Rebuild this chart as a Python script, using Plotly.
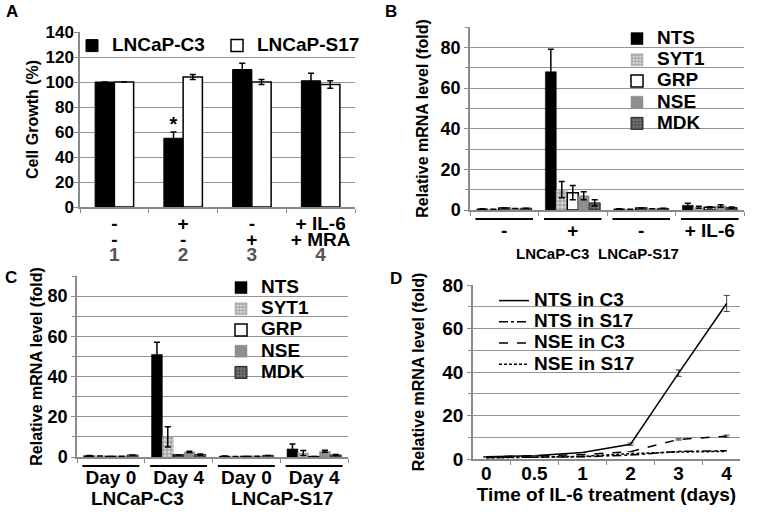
import plotly.graph_objects as go

FONT = "Liberation Sans, Arial, sans-serif"
GRID = "#959595"
AXL = "#8a8a8a"

# ---------------- Panel A data ----------------
a_categories = ["1", "2", "3", "4"]
a_row1 = ["-", "+", "-", "+ IL-6"]
a_row2 = ["-", "-", "+", "+ MRA"]
a_c3 = [100, 55, 110, 101]
a_c3_err = [0, 5, 5, 6]
a_s17 = [100, 104, 100, 98]
a_s17_err = [0, 2, 2, 3]
a_marks = ["", "*", "", ""]
a_yticks = [0, 20, 40, 60, 80, 100, 120, 140]

# ---------------- Panel B data ----------------
b_categories = ["C3 ctrl", "C3 IL-6", "S17 ctrl", "S17 IL-6"]
b_ticktext = ["-", "+", "-", "+ IL-6"]
b_cells = ["LNCaP-C3", "LNCaP-S17"]
b_nts = [0.6, 68, 0.6, 2.3]
b_nts_err = [0, 11, 0, 1.0]
b_syt1 = [0.4, 10, 0.4, 1.3]
b_syt1_err = [0, 4, 0, 0.5]
b_grp = [1.0, 8.5, 1.0, 1.3]
b_grp_err = [0, 3.5, 0, 0.3]
b_nse = [0.7, 7, 0.6, 2.0]
b_nse_err = [0, 2, 0, 0.6]
b_mdk = [0.9, 3.5, 0.8, 1.2]
b_mdk_err = [0, 1.5, 0, 0.3]

# ---------------- Panel C data ----------------
c_categories = ["C3 d0", "C3 d4", "S17 d0", "S17 d4"]
c_ticktext = ["Day 0", "Day 4", "Day 0", "Day 4"]
c_cells = ["LNCaP-C3", "LNCaP-S17"]
c_nts = [0.7, 51, 0.5, 4.0]
c_nts_err = [0, 6, 0, 2.5]
c_syt1 = [0.5, 10, 0.3, 2.0]
c_syt1_err = [0, 5, 0, 1.2]
c_grp = [0.3, 1.0, 0.3, 0.2]
c_grp_err = [0, 0, 0, 0]
c_nse = [0.4, 2.5, 0.4, 2.8]
c_nse_err = [0, 0.3, 0, 0.5]
c_mdk = [1.0, 1.2, 0.8, 1.0]
c_mdk_err = [0, 0.3, 0, 0.2]

genes = ["NTS", "SYT1", "GRP", "NSE", "MDK"]
mrna_ticks = [0, 20, 40, 60, 80]

# ---------------- Panel D data ----------------
d_days = ["0", "0.5", "1", "2", "3", "4"]
d_nts_c3 = [1.0, 1.5, 3.0, 6.8, 39.5, 71.5]
d_nts_c3_err = [0, 0, 0, 0.5, 1.5, 3.7]
d_nts_s17 = [0.7, 0.8, 1.0, 1.8, 3.5, 3.8]
d_nse_c3 = [1.0, 1.5, 2.0, 3.4, 9.0, 10.5]
d_nse_c3_err = [0, 0, 0, 0, 0.3, 0.5]
d_nse_s17 = [0.5, 0.8, 1.2, 2.5, 3.2, 3.5]
d_names = ["NTS in C3", "NTS in S17", "NSE in C3", "NSE in S17"]
d_yticks = [0, 20, 40, 60, 80]

W, H = 762, 519


def big(t, size=19, color=None):
    st = "font-size:%dpx" % size
    if color:
        st += ";color:%s" % color
    return "<span style='%s'>%s</span>" % (st, t)


fig = go.Figure()

# ---------- A ----------
fig.add_trace(go.Bar(x=a_categories, y=a_c3, name=big("LNCaP-C3"),
                     marker=dict(color="black", line=dict(color="black", width=1)),
                     width=0.28, offset=-0.28,
                     error_y=dict(type="data", array=a_c3_err, color="black", thickness=1.5, width=3),
                     text=a_marks, textposition="outside", cliponaxis=False,
                     textfont=dict(size=20, color="black", family=FONT, weight=700),
                     xaxis="x", yaxis="y", legend="legend"))
fig.add_trace(go.Bar(x=a_categories, y=a_s17, name=big("LNCaP-S17"),
                     marker=dict(color="white", line=dict(color="black", width=1.5)),
                     width=0.28, offset=0,
                     error_y=dict(type="data", array=a_s17_err, color="black", thickness=1.5, width=3),
                     xaxis="x", yaxis="y", legend="legend"))

# ---------- B & C bar styles ----------
styles = [
    dict(color="black", line=dict(color="black", width=0.5)),
    dict(color="#d0d0d0", line=dict(color="#a0a0a0", width=0.5),
         pattern=dict(shape="+", fgcolor="#858585", bgcolor="#d8d8d8", size=4, solidity=0.35)),
    dict(color="white", line=dict(color="black", width=1.5)),
    dict(color="#8e8e8e", line=dict(color="#8e8e8e", width=0.5)),
    dict(color="#5a5a5a", line=dict(color="#222", width=1),
         pattern=dict(shape="+", fgcolor="#2a2a2a", bgcolor="#7a7a7a", size=4, solidity=0.3)),
]
offsets = [-0.4, -0.24, -0.08, 0.08, 0.24]

b_vals = [b_nts, b_syt1, b_grp, b_nse, b_mdk]
b_errs = [b_nts_err, b_syt1_err, b_grp_err, b_nse_err, b_mdk_err]
for g, v, e, s, o in zip(genes, b_vals, b_errs, styles, offsets):
    fig.add_trace(go.Bar(x=b_categories, y=v, name=big(g), marker=s, width=0.16, offset=o,
                         error_y=dict(type="data", array=e, color="black", thickness=1.5, width=3),
                         xaxis="x2", yaxis="y2", legend="legend2"))

c_vals = [c_nts, c_syt1, c_grp, c_nse, c_mdk]
c_errs = [c_nts_err, c_syt1_err, c_grp_err, c_nse_err, c_mdk_err]
for g, v, e, s, o in zip(genes, c_vals, c_errs, styles, offsets):
    fig.add_trace(go.Bar(x=c_categories, y=v, name=big(g), marker=s, width=0.16, offset=o,
                         error_y=dict(type="data", array=e, color="black", thickness=1.5, width=3),
                         xaxis="x3", yaxis="y3", legend="legend3"))

# ---------- D ----------
d_series = [d_nts_c3, d_nts_s17, d_nse_c3, d_nse_s17]
d_errs = [d_nts_c3_err, None, d_nse_c3_err, None]
d_dash = ["solid", "dashdot", "dash", "3px,2px"]
for n, v, e, dsh in zip(d_names, d_series, d_errs, d_dash):
    fig.add_trace(go.Scatter(x=d_days, y=v, name=big(n), mode="lines",
                             line=dict(color="black", width=1.5, dash=dsh),
                             error_y=(dict(type="data", array=e, color="#444", thickness=1, width=3) if e else None),
                             xaxis="x4", yaxis="y4", legend="legend4"))


def px_x(p):
    return p / float(W)


def px_y(p):
    return 1 - p / float(H)


tickf = lambda s: dict(family=FONT, size=s, color="black", weight=700)
titf = dict(family=FONT, size=16, color="black", weight=700)

common_y = dict(showline=True, linecolor=AXL, linewidth=1.5, ticks="outside", ticklen=4,
                tickcolor=AXL, showgrid=True, gridcolor=GRID, gridwidth=1, zeroline=False)
common_x = dict(showline=True, linecolor=AXL, linewidth=1.5, ticks="outside", ticklen=4,
                tickcolor=AXL, tickson="boundaries", showgrid=False, zeroline=False, type="category",
                tickangle=0)

a_ticktext = [big(r1, 19) + "<br>" + big(r2, 19) + "<br>" + big(n, 19, "#555555")
              for r1, r2, n in zip(a_row1, a_row2, a_categories)]

minor_y = dict(dtick=10, showgrid=True, gridcolor=GRID, ticks="outside", ticklen=3, tickcolor=AXL)
leg_font = dict(family=FONT, size=14, color="black", weight=700)

fig.update_layout(
    width=W, height=H, margin=dict(l=0, r=0, t=0, b=0),
    paper_bgcolor="white", plot_bgcolor="white", template="none",
    barmode="group", showlegend=True,
    font=dict(family=FONT, color="black"),
    xaxis=dict(domain=[px_x(80), px_x(355)], anchor="y", tickvals=a_categories, ticktext=a_ticktext,
               tickfont=tickf(12), ticklabelstandoff=7, **common_x),
    yaxis=dict(domain=[px_y(207), px_y(32)], anchor="x", range=[0, 140], tickvals=a_yticks,
               tickfont=tickf(17), ticklabelstandoff=-3,
               title=dict(text="Cell Growth (%)", font=titf, standoff=3), **common_y),
    xaxis2=dict(domain=[px_x(470), px_x(744)], anchor="y2", tickvals=b_categories, ticktext=b_ticktext,
                tickfont=tickf(19), ticklabelstandoff=2, **common_x),
    yaxis2=dict(domain=[px_y(210), px_y(27)], anchor="x2", range=[0, 90], tickvals=mrna_ticks,
                tickfont=tickf(18), minor=minor_y,
                title=dict(text="Relative mRNA level (fold)", font=titf, standoff=8), **common_y),
    xaxis3=dict(domain=[px_x(77), px_x(348)], anchor="y3", tickvals=c_categories, ticktext=c_ticktext,
                tickfont=tickf(19), ticklabelstandoff=2, **common_x),
    yaxis3=dict(domain=[px_y(457), px_y(276)], anchor="x3", range=[0, 90], tickvals=mrna_ticks,
                tickfont=tickf(18), minor=minor_y,
                title=dict(text="Relative mRNA level (fold)", font=titf, standoff=1), **common_y),
    xaxis4=dict(domain=[px_x(473), px_x(740)], anchor="y4", tickvals=d_days, ticktext=d_days,
                tickfont=tickf(19), ticklabelstandoff=-4,
                title=dict(text="Time of IL-6 treatment (days)",
                           font=dict(family=FONT, size=19, color="black", weight=700),
                           standoff=0), **common_x),
    yaxis4=dict(domain=[px_y(459), px_y(285)], anchor="x4", range=[0, 80], tickvals=d_yticks,
                tickfont=tickf(19), minor=minor_y,
                title=dict(text="Relative mRNA level (fold)", font=titf, standoff=14), **common_y),
    legend=dict(orientation="h", x=px_x(72), y=px_y(30), xanchor="left", yanchor="top",
                font=leg_font, bgcolor="rgba(0,0,0,0)",
                entrywidth=100, itemclick=False, traceorder="normal"),
    legend2=dict(x=px_x(617), y=px_y(23), xanchor="left", yanchor="top",
                 font=leg_font, bgcolor="rgba(0,0,0,0)", traceorder="normal"),
    legend3=dict(x=px_x(221), y=px_y(272), xanchor="left", yanchor="top",
                 font=leg_font, bgcolor="rgba(0,0,0,0)", traceorder="normal"),
    legend4=dict(x=px_x(494), y=px_y(285), xanchor="left", yanchor="top",
                 font=leg_font, bgcolor="rgba(0,0,0,0)", traceorder="normal"),
)

# panel letters
for letter, (lx, ly) in zip(["A", "B", "C", "D"], [(12, 12), (391, 12), (11, 277), (396, 278)]):
    fig.add_annotation(text=letter, x=px_x(lx), y=px_y(ly), xref="paper", yref="paper",
                       showarrow=False, xanchor="center", yanchor="middle",
                       font=dict(family=FONT, size=17, color="black", weight=700))

# group underlines and cell-line labels
for xr, cats, ypx in [("x2", b_categories, 219), ("x3", c_categories, 466)]:
    for i in range(len(cats)):
        fig.add_shape(type="line", xref=xr, yref="paper", x0=i - 0.42, x1=i + 0.42,
                      y0=px_y(ypx), y1=px_y(ypx), line=dict(color="black", width=2))

for name, xd in zip(b_cells, [0.30, 0.615]):
    fig.add_annotation(text=name, xref="x2 domain", yref="paper", x=xd, y=px_y(253), showarrow=False,
                       xanchor="center", yanchor="middle", font=dict(family=FONT, size=15, color="black", weight=700))
for name, xd in zip(c_cells, [0.225, 0.756]):
    fig.add_annotation(text=name, xref="x3 domain", yref="paper", x=xd, y=px_y(498), showarrow=False,
                       xanchor="center", yanchor="middle", font=dict(family=FONT, size=19, color="black", weight=700))

fig.write_html("out.html", config={"displayModeBar": False},
               post_script="document.documentElement.style.margin='0';document.body.style.margin='0';"
                           "document.body.style.padding='0';document.body.style.overflow='hidden';")
